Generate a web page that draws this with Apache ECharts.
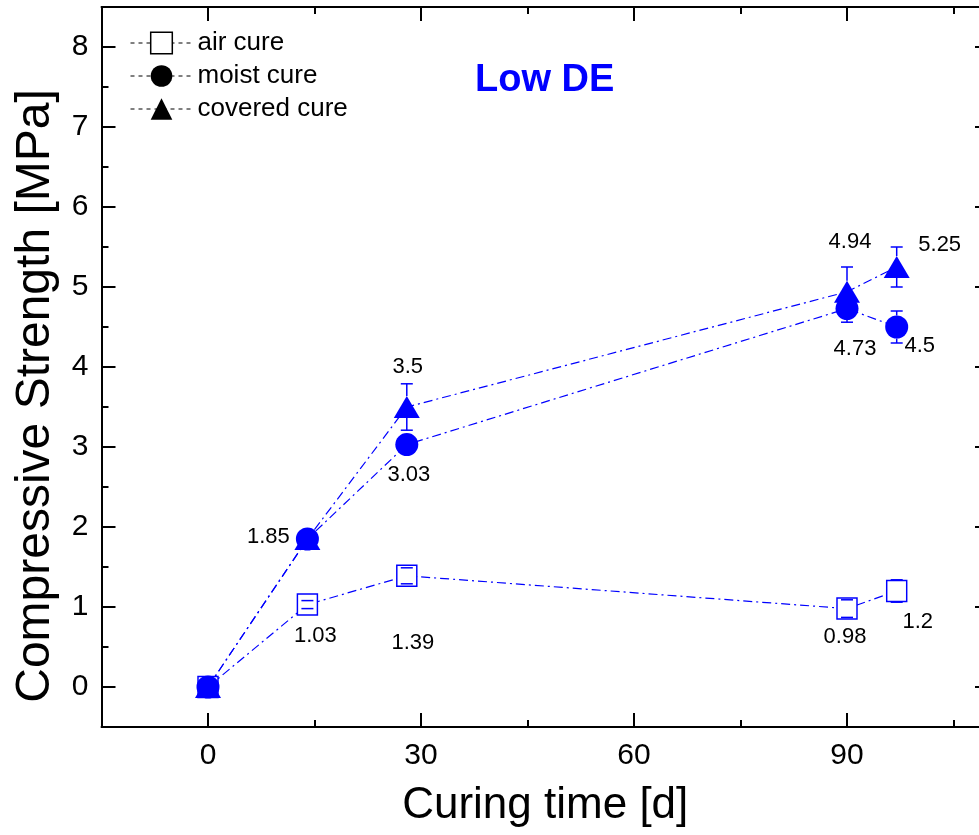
<!DOCTYPE html>
<html>
<head>
<meta charset="utf-8">
<script src="https://cdn.jsdelivr.net/npm/echarts@6/dist/echarts.min.js"></script>
<style>
  html, body { margin: 0; padding: 0; background: #fff; }
  #chart { width: 979px; height: 835px; }
</style>
</head>
<body>
<div id="chart"></div>
<script>
// Compressive strength of Low DE specimens under three curing regimes
const days = [0, 14, 28, 90, 97];
const airCure = [0, 1.03, 1.39, 0.98, 1.2];
const moistCure = [0, 1.85, 3.03, 4.73, 4.5];
const coveredCure = [0, 1.85, 3.5, 4.94, 5.25];
const airErr = [0, 0.05, 0.1, 0.11, 0.14];
const moistErr = [0, 0.05, 0.08, 0.17, 0.2];
const coveredErr = [0, 0.06, 0.29, 0.31, 0.25];
const xTickValues = [0, 30, 60, 90];
const yTickValues = [0, 1, 2, 3, 4, 5, 6, 7, 8];
const seriesNames = ['air cure', 'moist cure', 'covered cure'];

// pixel offsets of each value label from its mark (null = no label)
const airLabelOffset = [null, [8, 31], [6, 67], [-2, 28], [21, 31]];
const moistLabelOffset = [null, [-39, -2], [2, 30], [8, 40], [23, 19]];
const coveredLabelOffset = [null, null, [1, -40], [3, -50], [43, -22]];

const BLUE = '#0000ff';
const FONT = "'Liberation Sans', Arial, sans-serif";
const DASH_DOT = [9, 4, 2, 4];

function lineSeries(name, values, symbol, size, itemStyle, offsets) {
  return {
    name: name,
    type: 'line',
    xAxisIndex: 0,
    yAxisIndex: 0,
    z: 3,
    symbol: symbol,
    symbolSize: size,
    showAllSymbol: true,
    animation: false,
    silent: true,
    lineStyle: { color: BLUE, width: 1.2, type: DASH_DOT },
    itemStyle: itemStyle,
    label: {
      position: 'inside',
      color: '#000',
      fontSize: 22,
      fontFamily: FONT,
      align: 'center',
      verticalAlign: 'middle',
      formatter: p => String(p.value[1])
    },
    emphasis: { disabled: true },
    data: values.map((v, i) => ({
      value: [days[i], v],
      label: offsets[i] ? { show: true, offset: offsets[i] } : { show: false }
    }))
  };
}

// error bars: caps at ±err, stems only outside the marker body
function errorSeries(values, errs, half) {
  return {
    type: 'custom',
    xAxisIndex: 0,
    yAxisIndex: 0,
    z: 4,
    silent: true,
    animation: false,
    encode: { x: 0, y: 1 },
    data: values.map((v, i) => [days[i], v, errs[i]]),
    renderItem: function (params, api) {
      const x = api.value(0), y = api.value(1), e = api.value(2);
      if (!e) return;
      const c = api.coord([x, y]);
      const hi = api.coord([x, y + e]);
      const lo = api.coord([x, y - e]);
      const st = { stroke: BLUE, lineWidth: 1.5 };
      const w = 6;
      const kids = [
        { type: 'line', shape: { x1: c[0] - w, y1: hi[1], x2: c[0] + w, y2: hi[1] }, style: st },
        { type: 'line', shape: { x1: c[0] - w, y1: lo[1], x2: c[0] + w, y2: lo[1] }, style: st }
      ];
      if (hi[1] < c[1] - half) {
        kids.push({ type: 'line', shape: { x1: c[0], y1: c[1] - half, x2: c[0], y2: hi[1] }, style: st });
      }
      if (lo[1] > c[1] + half) {
        kids.push({ type: 'line', shape: { x1: c[0], y1: c[1] + half, x2: c[0], y2: lo[1] }, style: st });
      }
      return { type: 'group', children: kids };
    }
  };
}

const axisLineStyle = { show: true, onZero: false, lineStyle: { color: '#000', width: 2 } };
const noLine = { show: false, onZero: false };
const tickStyle = { color: '#000', width: 2 };

function xAxisPair(position, withLabels) {
  const major = {
    type: 'value', position: position, min: -15, max: 110,
    axisLine: axisLineStyle,
    axisTick: { show: true, inside: true, length: 14, lineStyle: tickStyle, customValues: xTickValues },
    axisLabel: withLabels
      ? { show: true, customValues: xTickValues, fontSize: 30, color: '#000', fontFamily: FONT, margin: 14 }
      : { show: false },
    splitLine: { show: false }
  };
  if (withLabels) {
    Object.assign(major, {
      name: 'Curing time [d]', nameLocation: 'middle', nameGap: 57,
      nameTextStyle: { fontSize: 44, color: '#000', fontFamily: FONT }
    });
  }
  const minor = {
    type: 'value', position: position, min: -15, max: 110, interval: 15,
    axisLine: noLine,
    axisTick: { show: true, inside: true, length: 7, lineStyle: tickStyle },
    axisLabel: { show: false },
    splitLine: { show: false }
  };
  return [major, minor];
}

function yAxisPair(position, withLabels) {
  const major = {
    type: 'value', position: position, min: -0.5, max: 8.5,
    axisLine: axisLineStyle,
    axisTick: { show: true, inside: true, length: 14, lineStyle: tickStyle, customValues: yTickValues },
    axisLabel: withLabels
      ? { show: true, customValues: yTickValues, fontSize: 30, color: '#000', fontFamily: FONT, margin: 13 }
      : { show: false },
    splitLine: { show: false }
  };
  if (withLabels) {
    Object.assign(major, {
      name: 'Compressive Strength [MPa]', nameLocation: 'middle', nameGap: 42,
      nameTextStyle: { fontSize: 48, color: '#000', fontFamily: FONT, padding: [0, 58, 0, 0] }
    });
  }
  const minor = {
    type: 'value', position: position, min: -0.5, max: 8.5, interval: 0.5,
    axisLine: noLine,
    axisTick: { show: true, inside: true, length: 7, lineStyle: tickStyle },
    axisLabel: { show: false },
    splitLine: { show: false }
  };
  return [major, minor];
}

const chart = echarts.init(document.getElementById('chart'), null, { renderer: 'canvas' });

chart.setOption({
  backgroundColor: '#fff',
  animation: false,
  grid: {
    left: 101.5, top: 7, width: 887.5, height: 720,
    containLabel: false, outerBoundsMode: 'none'
  },
  title: {
    text: 'Low DE',
    left: 470, top: 57,
    textStyle: { fontSize: 38, fontWeight: 'bold', color: BLUE, fontFamily: FONT }
  },
  legend: {
    orient: 'vertical',
    left: 125, top: 25,
    itemWidth: 62, itemHeight: 27, itemGap: 7,
    selectedMode: false,
    textStyle: { fontSize: 26, color: '#000', fontFamily: FONT },
    data: [
      { name: seriesNames[0], itemStyle: { color: '#fff', borderColor: '#000', borderWidth: 1.5 },
        lineStyle: { color: '#000', type: [4, 4], width: 1 } },
      { name: seriesNames[1], itemStyle: { color: '#000', borderWidth: 0 },
        lineStyle: { color: '#000', type: [4, 4], width: 1 } },
      { name: seriesNames[2], itemStyle: { color: '#000', borderWidth: 0 },
        lineStyle: { color: '#000', type: [4, 4], width: 1 } }
    ]
  },
  xAxis: [...xAxisPair('bottom', true), ...xAxisPair('top', false)],
  yAxis: [...yAxisPair('left', true), ...yAxisPair('right', false)],
  series: [
    lineSeries(seriesNames[0], airCure, 'rect', [20, 21],
      { color: '#fff', borderColor: BLUE, borderWidth: 1.5 }, airLabelOffset),
    lineSeries(seriesNames[1], moistCure, 'circle', 23,
      { color: BLUE, borderWidth: 0 }, moistLabelOffset),
    lineSeries(seriesNames[2], coveredCure, 'triangle', [26, 22],
      { color: BLUE, borderWidth: 0 }, coveredLabelOffset),
    errorSeries(airCure, airErr, 10.5),
    errorSeries(moistCure, moistErr, 11.5),
    errorSeries(coveredCure, coveredErr, 11)
  ]
});
</script>
</body>
</html>
